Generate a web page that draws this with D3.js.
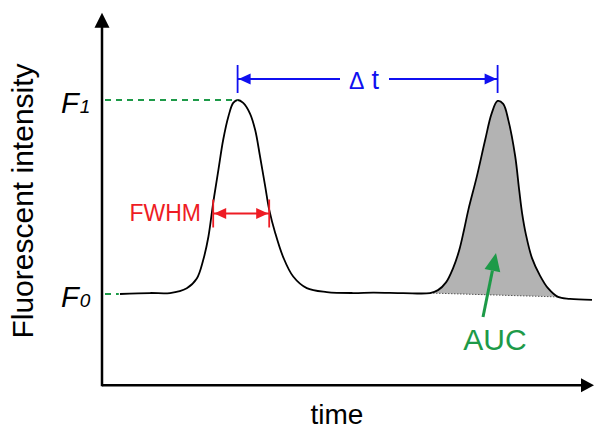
<!DOCTYPE html>
<html>
<head>
<meta charset="utf-8">
<script src="https://cdn.jsdelivr.net/npm/d3@7/dist/d3.min.js"></script>
<style>
  body { margin: 0; background: #fff; }
  text { font-family: "Liberation Sans", Arial, sans-serif; }
</style>
</head>
<body>
<svg id="chart" width="595" height="430"></svg>
<script>
// trace (time in s, intensity in a.u.)
const time = [4.5, 12, 17, 21.2, 23.7, 25.3, 26.6, 27.8, 29.1, 30.3, 31.6, 32.8, 33.9,
  35.3, 37, 38.3, 39.5, 40.8, 41.8, 43.3, 45.3, 47.8, 51.2, 56.2, 62.8, 67.8, 75.3,
  82, 84, 86, 87.8, 89.3, 90.5, 91.6, 93.7, 95.8, 97.4, 98.9, 100.3, 101.6, 103.3,
  104.3, 105, 106, 107.5, 109.5, 111.5, 114, 117, 122.5];
const intensity = [1.00, 1.01, 1.01, 1.06, 1.16, 1.35, 1.59, 1.94, 2.28, 2.59, 2.83, 2.97, 3.00,
  2.97, 2.86, 2.69, 2.42, 2.11, 1.87, 1.63, 1.38, 1.18, 1.06, 1.02, 1.01, 1.015, 1.01,
  1.01, 1.04, 1.12, 1.27, 1.45, 1.66, 1.87, 2.21, 2.59, 2.86, 2.99, 2.96, 2.79, 2.42,
  2.07, 1.84, 1.61, 1.37, 1.19, 1.06, 0.97, 0.95, 0.94];

const levels = { F0: 1, F1: 3 };
const peakTimes = [33.9, 98.9];
const fwhmTimes = [27.8, 41.8];
const fwhmLevel = 1.83;
const aucRange = [82, 114];

const svg = d3.select('#chart');

const x = d3.scaleLinear().domain([0, 122]).range([102, 590]);
const y = d3.scaleLinear().domain([levels.F0, levels.F1]).range([294, 100]);

const green = '#1d9a48', blue = '#1010f0', red = '#ee1c24';

const pts = time.map((t, i) => ({ t: t, v: intensity[i] }));

// shaded area under the second peak
let aucPts = pts.filter(d => d.t >= aucRange[0] && d.t <= aucRange[1]);
let a0 = aucPts[0], a1 = aucPts[aucPts.length - 1];
let base = t => a0.v + (a1.v - a0.v) * (t - a0.t) / (a1.t - a0.t);

svg.append('path')
   .datum(aucPts)
   .attr('d', d3.area()
      .x(d => x(d.t))
      .y0(d => y(base(d.t)))
      .y1(d => y(d.v))
      .curve(d3.curveCatmullRom))
   .style('fill', '#b3b3b3');

svg.append('line')
   .attr('x1', x(a0.t)).attr('y1', y(a0.v))
   .attr('x2', x(a1.t)).attr('y2', y(a1.v))
   .style('stroke', '#555')
   .style('stroke-width', 1)
   .style('stroke-dasharray', '1.5,1.5');

// trace
svg.append('path')
   .datum(pts)
   .attr('d', d3.line().x(d => x(d.t)).y(d => y(d.v)).curve(d3.curveCatmullRom))
   .style('fill', 'none')
   .style('stroke', '#000')
   .style('stroke-width', 1.8);

// axes with arrow heads
let x0 = x(0), yBottom = y(0.06), yTop = y(3.9), xRight = x(123);
svg.append('line').attr('x1', x0).attr('y1', yBottom + 1).attr('x2', x0).attr('y2', yTop + 10)
   .style('stroke', '#000').style('stroke-width', 2.5);
svg.append('line').attr('x1', x0).attr('y1', yBottom).attr('x2', xRight - 10).attr('y2', yBottom)
   .style('stroke', '#000').style('stroke-width', 2.5);
svg.append('path')
   .attr('d', `M${x0},${yTop} L${x0 - 7.5},${yTop + 15} L${x0 + 7.5},${yTop + 15} Z`)
   .style('fill', '#000');
svg.append('path')
   .attr('d', `M${xRight},${yBottom} L${xRight - 13},${yBottom - 7} L${xRight - 13},${yBottom + 7} Z`)
   .style('fill', '#000');

// axis titles
svg.append('text')
   .attr('transform', 'translate(33,201) rotate(-90)')
   .attr('text-anchor', 'middle')
   .style('font-size', '30px')
   .text('Fluorescent intensity');

svg.append('text')
   .attr('x', 337).attr('y', 424)
   .attr('text-anchor', 'middle')
   .style('font-size', '28px')
   .text('time');

// F0 / F1 levels
[['F1', '1', levels.F1, x(peakTimes[0])], ['F0', '0', levels.F0, x(4.2)]].forEach(([k, sub, v, xe]) => {
   let t = svg.append('text')
      .attr('x', 61).attr('y', y(v) + 13)
      .style('font-style', 'italic');
   t.append('tspan').style('font-size', '29px').text('F');
   t.append('tspan').style('font-size', '19px').attr('dx', 1).text(sub);

   svg.append('line')
      .attr('x1', x0 + 3).attr('y1', y(v))
      .attr('x2', xe).attr('y2', y(v))
      .style('stroke', green)
      .style('stroke-width', 2.2)
      .style('stroke-dasharray', '6,5');
});

// double headed dimension arrow with end ticks
function dimArrow(xa, xb, yy, color, tick, gap) {
   let g = svg.append('g');
   [xa, xb].forEach(xx => {
      g.append('line').attr('x1', xx).attr('y1', yy - tick).attr('x2', xx).attr('y2', yy + tick)
       .style('stroke', color).style('stroke-width', 1.8);
   });
   let segs = gap ? [[xa, gap[0]], [gap[1], xb]] : [[xa, xb]];
   segs.forEach(s => {
      g.append('line').attr('x1', s[0]).attr('y1', yy).attr('x2', s[1]).attr('y2', yy)
       .style('stroke', color).style('stroke-width', 1.8);
   });
   g.append('path')
    .attr('d', `M${xa + 1},${yy} L${xa + 13},${yy - 5.5} L${xa + 13},${yy + 5.5} Z`)
    .style('fill', color);
   g.append('path')
    .attr('d', `M${xb - 1},${yy} L${xb - 13},${yy - 5.5} L${xb - 13},${yy + 5.5} Z`)
    .style('fill', color);
   return g;
}

// delta t
let dtY = y(levels.F1) - 21;
dimArrow(x(peakTimes[0]), x(peakTimes[1]), dtY, blue, 14, [340, 389]);
let dt = svg.append('text')
   .attr('x', 364).attr('y', dtY + 10)
   .attr('text-anchor', 'middle')
   .style('font-size', '27px')
   .style('fill', blue);
dt.append('tspan').style('font-weight', 300).style('font-size', '23px').text('\u0394');
dt.append('tspan').attr('dx', 7).text('t');

// FWHM
let fy = y(fwhmLevel);
dimArrow(x(fwhmTimes[0]), x(fwhmTimes[1]), fy, red, 14);
svg.append('text')
   .attr('x', 201).attr('y', fy + 8)
   .attr('text-anchor', 'end')
   .style('font-size', '23px')
   .style('fill', red)
   .text('FWHM');

// AUC pointer
let ax1 = 483, ay1 = 317, ax2 = 496, ay2 = 253;
let ang = Math.atan2(ay2 - ay1, ax2 - ax1);
let hl = 18, hw = 8;
let bx = ax2 - hl * Math.cos(ang), by = ay2 - hl * Math.sin(ang);
svg.append('line').attr('x1', ax1).attr('y1', ay1).attr('x2', bx).attr('y2', by)
   .style('stroke', green).style('stroke-width', 3);
svg.append('path')
   .attr('d', `M${ax2},${ay2} L${bx + hw * Math.sin(ang)},${by - hw * Math.cos(ang)} L${bx - hw * Math.sin(ang)},${by + hw * Math.cos(ang)} Z`)
   .style('fill', green);
svg.append('text')
   .attr('x', 495).attr('y', 350)
   .attr('text-anchor', 'middle')
   .style('font-size', '30px')
   .style('fill', green)
   .text('AUC');
</script>
</body>
</html>
